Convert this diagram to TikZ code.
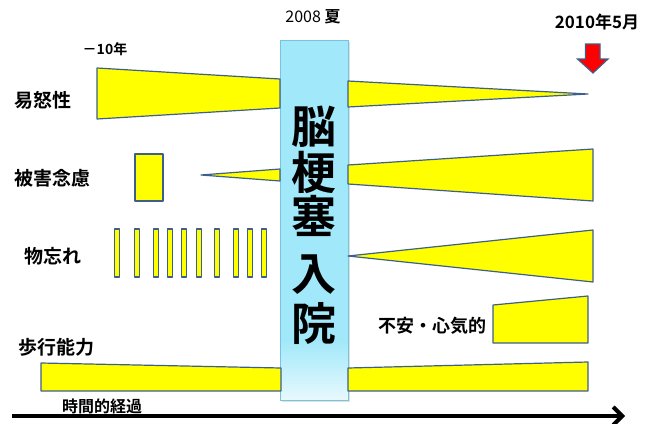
\documentclass[tikz,border=0pt]{standalone}
\usepackage{fontspec}
\setmainfont{Noto Sans CJK JP}[BoldFont={Noto Sans CJK JP Bold}]
\usetikzlibrary{arrows.meta}
\definecolor{edge}{HTML}{3D5F8C}
\definecolor{ylw}{HTML}{FFFF00}
\definecolor{colfill}{HTML}{A0E8FA}
\definecolor{colfade}{HTML}{E8F9FE}
\definecolor{coledge}{HTML}{78C4DE}
\tikzset{
  ybox/.style={draw=edge, fill=ylw, line width=1.2pt, line join=round},
  lbl/.style={font=\bfseries\fontsize{19}{19}\selectfont, inner sep=0pt, anchor=west},
  big/.style={font=\bfseries\fontsize{45}{45}\selectfont, inner sep=0pt},
}
\begin{document}
\begin{tikzpicture}[x=1pt,y=-1pt]
\useasboundingbox (0,0) rectangle (653,423);
% center column
\fill[black!12] (281.5,41.5) rectangle (350,402);
\fill[colfill] (280,40) rectangle (348,340);
\shade[top color=colfill, bottom color=colfade] (280,339.5) rectangle (348,400);
\draw[coledge, line width=1pt] (280,40) rectangle (348,400);
\node[big] (c1) at (314,127) {脳};
\node[big] (c2) at (314,172) {梗};
\node[big] (c3) at (314,216) {塞};
\node[big] (c4) at (314,275) {入};
\node[big] (c5) at (314,324) {院};
% top labels
\node[inner sep=0pt, font=\fontsize{16}{16}\selectfont] (y2008) at (313,17) {2008 \textbf{夏}};
\node[inner sep=0pt, font=\bfseries\fontsize{14}{14}\selectfont] (m10) at (105,49) {－10年};
\node[inner sep=0pt, font=\bfseries\fontsize{17}{17}\selectfont] (y2010) at (597,22) {2010年5月};
% red arrow
\draw[edge, fill=red, line width=1.2pt, line join=miter] (585.5,44) -- (600,44) -- (600,59) -- (608,59) -- (593,73) -- (577.5,59) -- (585.5,59) -- cycle;
% 易怒性
\node[lbl] (l1) at (14,100) {易怒性};
\draw[ybox] (97,68) -- (280,79) -- (280,108) -- (97,119) -- cycle;
\draw[ybox] (348,81) -- (588,94) -- (348,107) -- cycle;
% 被害念慮
\node[lbl] (l2) at (14,178) {被害念慮};
\draw[ybox] (135,154) rectangle (163,201);
\draw[ybox] (201,175) -- (280,169) -- (280,181) -- cycle;
\draw[ybox] (348,165) -- (593,149) -- (593,201) -- (348,184) -- cycle;
% 物忘れ
\node[lbl] (l3) at (24,256) {物忘れ};
\foreach \bx in {117,137,156,170,184,199,217,236,250,264}
  \draw[ybox, line width=1.1pt] (\bx-2.3,229) rectangle (\bx+2.3,277);
\draw[ybox] (348,256) -- (593,230) -- (593,282) -- cycle;
% 不安・心気的
\node[lbl, font=\bfseries\fontsize{18}{18}\selectfont] (l4) at (378,326) {不安・心気的};
\draw[ybox] (493,305) -- (588,296) -- (588,343) -- (493,343) -- cycle;
% 歩行能力
\node[lbl] (l5) at (18,347) {歩行能力};
\draw[ybox] (41,363) -- (281,368) -- (281,391) -- (41,391) -- cycle;
\draw[ybox] (348,368) -- (588,362) -- (588,391) -- (348,391) -- cycle;
% time axis
\node[lbl, font=\bfseries\fontsize{16}{16}\selectfont] (l6) at (62,406) {時間的経過};
\coordinate (a0) at (12,416);
\coordinate (a1) at (625,416);
\draw[line width=4pt, -{Straight Barb[length=9pt,width=18pt]}] (a0) -- (a1);
\end{tikzpicture}
\end{document}
